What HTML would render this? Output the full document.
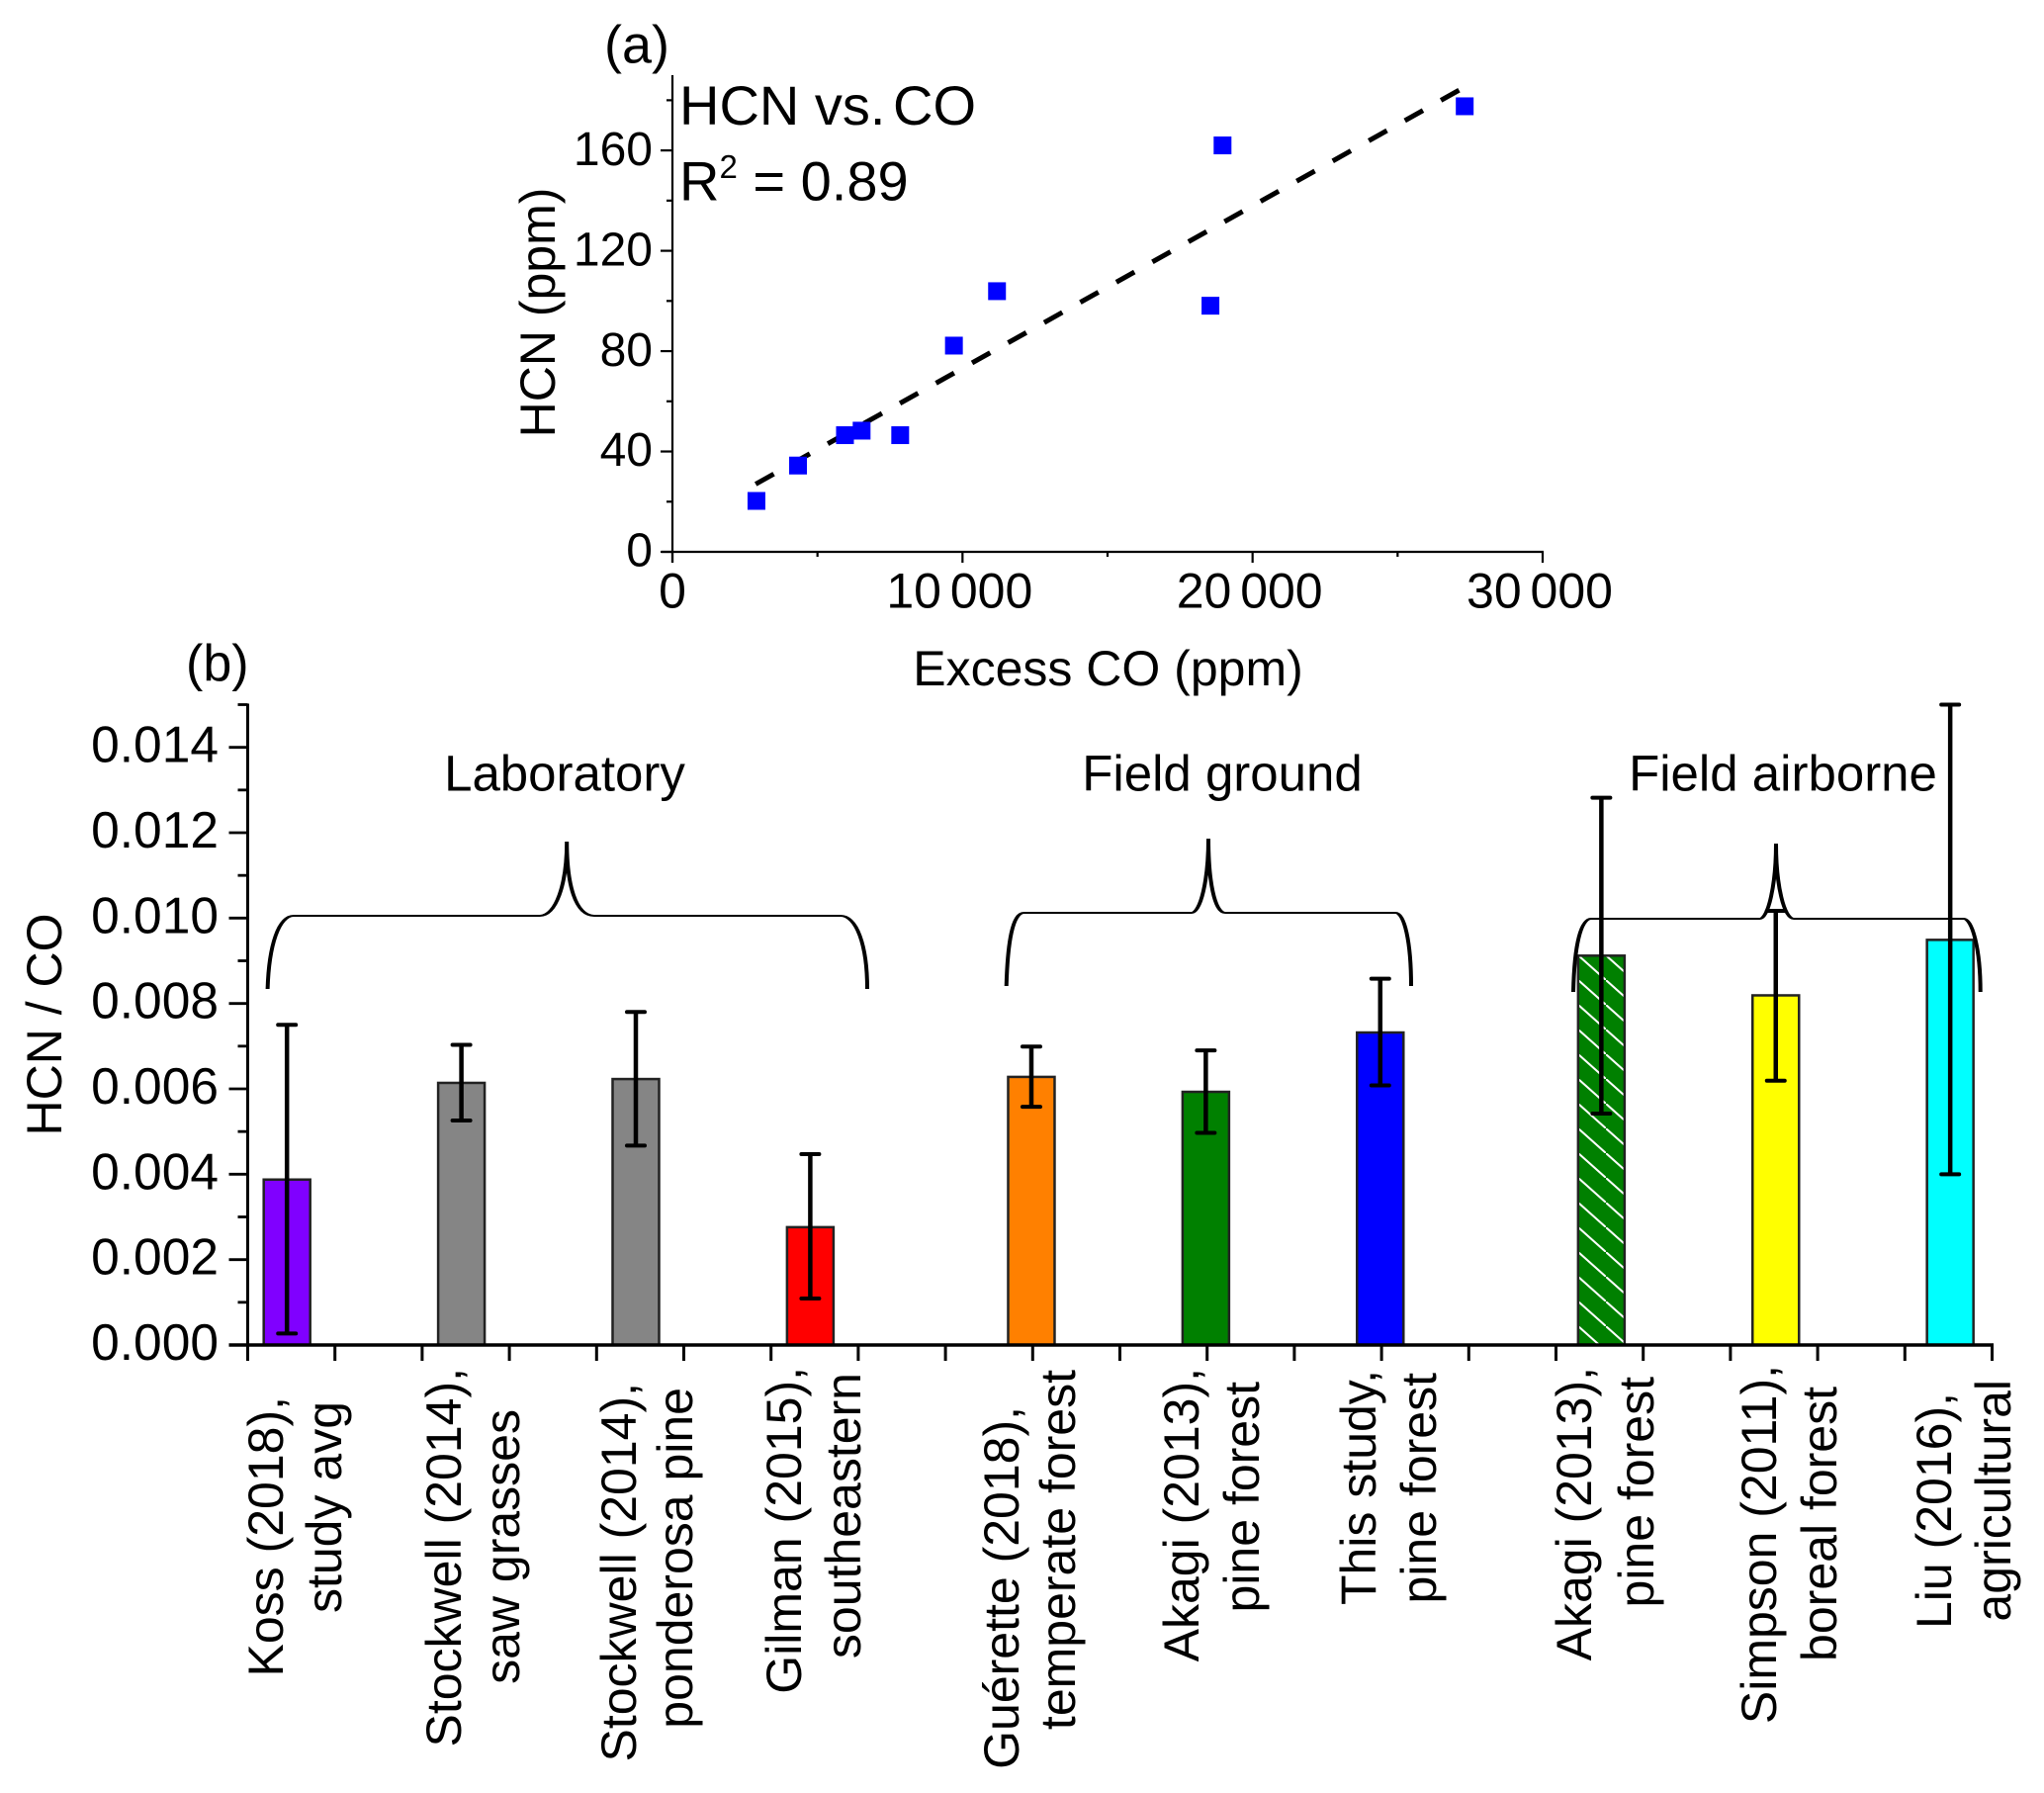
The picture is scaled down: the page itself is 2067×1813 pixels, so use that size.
<!DOCTYPE html>
<html lang="en">
<head>
<meta charset="utf-8">
<title>HCN vs CO</title>
<style>
html,body{margin:0;padding:0;background:#fff}
svg{display:block}
text{font-family:"Liberation Sans",Arial,sans-serif;fill:#000}
</style>
</head>
<body>
<svg id="chart" xmlns="http://www.w3.org/2000/svg" width="2067" height="1813" viewBox="0 0 2067 1813">
  <defs>
    <pattern id="hatch" patternUnits="userSpaceOnUse" width="28" height="25" patternTransform="translate(0,16)">
      <rect width="28" height="25" fill="#008000"/>
      <line x1="-2" y1="-1.8" x2="30" y2="26.8" stroke="#fff" stroke-width="2"/>
    </pattern>
  </defs>
  <rect width="2067" height="1813" fill="#fff"/>

  <g id="panel-a">
    <text x="611" y="63.5" font-size="54">(a)</text>
    <text x="687" y="126" font-size="56">HCN vs.<tspan dx="-8"> CO</tspan></text>
    <text x="687" y="202.7" font-size="56">R<tspan font-size="33" dy="-22.7">2</tspan><tspan dy="22.7"> = 0.89</tspan></text>
    <text transform="translate(561,316) rotate(-90)" text-anchor="middle" font-size="50">HCN (ppm)</text>
    <text x="1120.5" y="693" text-anchor="middle" font-size="50">Excess CO (ppm)</text>
  </g>

  <g id="panel-b">
    <text x="188" y="688" font-size="52">(b)</text>
    <text transform="translate(62,1036) rotate(-90)" text-anchor="middle" font-size="50">HCN / CO</text>
    <text x="571" y="799.5" text-anchor="middle" font-size="51">Laboratory</text>
    <text x="1236" y="799.5" text-anchor="middle" font-size="51">Field ground</text>
    <text x="1803" y="799.5" text-anchor="middle" font-size="51">Field airborne</text>

    <g id="cat-labels" font-size="50" text-anchor="end">
      <text transform="translate(286,1412) rotate(-90)">Koss (2018),</text>
      <text transform="translate(345,1417) rotate(-90)">study avg</text>
      <text transform="translate(466,1383) rotate(-90)">Stockwell (2014),</text>
      <text transform="translate(525,1425) rotate(-90)">saw grasses</text>
      <text transform="translate(643,1398) rotate(-90)">Stockwell (2014),</text>
      <text transform="translate(700,1403) rotate(-90)">ponderosa pine</text>
      <text transform="translate(810,1382) rotate(-90)">Gilman (2015),</text>
      <text transform="translate(870,1388) rotate(-90)">southeastern</text>
      <text transform="translate(1030,1422) rotate(-90)">Guérette (2018),</text>
      <text transform="translate(1087,1385) rotate(-90)">temperate forest</text>
      <text transform="translate(1212,1383) rotate(-90)">Akagi (2013),</text>
      <text transform="translate(1273,1397) rotate(-90)">pine forest</text>
      <text transform="translate(1391,1385) rotate(-90)">This study,</text>
      <text transform="translate(1452,1388) rotate(-90)">pine forest</text>
      <text transform="translate(1609,1382) rotate(-90)">Akagi (2013),</text>
      <text transform="translate(1672,1392) rotate(-90)">pine forest</text>
      <text transform="translate(1796,1380) rotate(-90)">Simpson (2011),</text>
      <text transform="translate(1857,1402) rotate(-90)">boreal forest</text>
      <text transform="translate(1973,1408) rotate(-90)">Liu (2016),</text>
      <text transform="translate(2033,1395) rotate(-90)">agricultural</text>
    </g>
  </g>
  <g id="brackets" fill="none" stroke="#000" stroke-width="2" transform="scale(2,1)">
    <path d="M135.3,1000 C136,955 141,926 148.5,926 L273,926 C281,926 286.6,895 286.6,851 C286.6,895 291,926 300.4,926 L425,926 C433,926 438.5,955 438.5,1000"/>
    <path d="M508.85,997 C509.5,952 512,923 517.75,923 L602.5,923 C607,923 611,890 611,848 C611,890 614,923 619.5,923 L705.75,923 C710,923 713.5,952 713.5,997"/>
    <path d="M795.5,1003 C796,958 799,929 804.5,929 L889.85,929 C894,929 898,895 898,853 C898,895 902,929 907,929 L993,929 C997,929 1001.35,958 1001.35,1003"/>
  </g>

<script>
// Panel (a) data
const coValues = [2896, 4330, 5948, 6522, 7852, 9704, 11190, 18548, 18965, 27313];
const hcnValues = [20.3, 34.4, 46.5, 48.3, 46.5, 82.2, 103.9, 98.1, 162, 177.6];
const trendCo = [2870, 27150];
const trendHcn = [27, 184.2];
const xTicksA = [0, 10000, 20000, 30000];
const xTickLabelsA = ['0', '10 000', '20 000', '30 000'];
const xMinorA = [5000, 15000, 25000];
const yTicksA = [0, 40, 80, 120, 160];
const yMinorA = [20, 60, 100, 140, 180];
const yMaxA = 190;

// Panel (b) data
const barCategories = ['Koss 2018', 'Stockwell 2014 saw grasses', 'Stockwell 2014 ponderosa', 'Gilman 2015', 'Guerette 2018', 'Akagi 2013 ground', 'This study', 'Akagi 2013 airborne', 'Simpson 2011', 'Liu 2016'];
const barGroups = [0, 0, 0, 0, 1, 1, 1, 2, 2, 2];
const barValues = [0.003875, 0.00614, 0.00623, 0.00276, 0.00628, 0.00593, 0.00732, 0.00912, 0.00819, 0.00949];
const errUpper = [0.0075, 0.00703, 0.0078, 0.00447, 0.00699, 0.0069, 0.00858, 0.01282, 0.01017, 0.015];
const errLower = [0.00027, 0.00526, 0.00467, 0.00109, 0.00558, 0.00497, 0.00608, 0.00542, 0.00619, 0.004];
const barColors = ['#8000ff', '#858585', '#858585', '#ff0000', '#ff8000', '#008000', '#0000ff', 'url(#hatch)', '#ffff00', '#00ffff'];
const yTicksB = [0, 0.002, 0.004, 0.006, 0.008, 0.01, 0.012, 0.014];
const yTickLabelsB = ['0.000', '0.002', '0.004', '0.006', '0.008', '0.010', '0.012', '0.014'];
const yMinorB = [0.001, 0.003, 0.005, 0.007, 0.009, 0.011, 0.013, 0.015];
const yMaxB = 0.015;
const xTickCountB = 21;

const svg = document.getElementById('chart');
const NS = 'http://www.w3.org/2000/svg';
function mk(tag, attrs, parent) {
  const el = document.createElementNS(NS, tag);
  for (const k in attrs) el.setAttribute(k, attrs[k]);
  (parent || svg).appendChild(el);
  return el;
}

// Axis functions panel a
const ax = { x0: 680, x1: 1560, y0: 558, y1: 76, xMax: 30000 };
const xA = v => ax.x0 + (v / ax.xMax) * (ax.x1 - ax.x0);
const yA = v => ax.y0 - (v / yMaxA) * (ax.y0 - ax.y1);

// Axis functions panel b
const bx = { x0: 250.5, step: 88.2, y0: 1360, y1: 712.5 };
const yB = v => bx.y0 - (v / yMaxB) * (bx.y0 - bx.y1);
const xTickB = i => bx.x0 + i * bx.step;
const xBar = (i, g) => xTickB(0.45 + i * 2 + g * 0.535);

const gA = document.getElementById('panel-a');
const gB = document.getElementById('panel-b');

// Panel a trend line
const trend = mk('line', { x1: xA(trendCo[0]), y1: yA(trendHcn[0]), x2: xA(trendCo[1]), y2: yA(trendHcn[1]), stroke: '#000', 'stroke-width': 5, 'stroke-dasharray': '21 20.8' }, gA);



// Panel a axes
const axisAV = mk('line', { x1: ax.x0, y1: ax.y1, x2: ax.x0, y2: ax.y0 + 11, stroke: '#000', 'stroke-width': 2.2 }, gA);


const axisAH = mk('line', { x1: ax.x0 - 11, y1: ax.y0, x2: ax.x1 + 1, y2: ax.y0, stroke: '#000', 'stroke-width': 2.2 }, gA);



xTicksA.forEach((v, i) => {
  const t = mk('line', { x1: xA(v), y1: ax.y0, x2: xA(v), y2: ax.y0 + 11, stroke: '#000', 'stroke-width': 2.2 }, gA);
  
  
  const l = mk('text', { x: v === 0 ? xA(v) : xA(v) - 3, y: 614.5, 'text-anchor': 'middle', 'font-size': 50, style: 'word-spacing:-0.1em' }, gA);
  
  
  l.textContent = xTickLabelsA[i];
});
xMinorA.forEach(v => {
  const t = mk('line', { x1: xA(v), y1: ax.y0, x2: xA(v), y2: ax.y0 + 5, stroke: '#000', 'stroke-width': 2.2 }, gA);
  
  
});
yTicksA.forEach(v => {
  const t = mk('line', { x1: ax.x0 - 12, y1: yA(v), x2: ax.x0, y2: yA(v), stroke: '#000', 'stroke-width': 2.2 }, gA);
  
  
  const l = mk('text', { x: 660, y: yA(v) + 14.7, 'text-anchor': 'end', 'font-size': 48 }, gA);
  
  
  l.textContent = String(v);
});
yMinorA.forEach(v => {
  const t = mk('line', { x1: ax.x0 - 6, y1: yA(v), x2: ax.x0, y2: yA(v), stroke: '#000', 'stroke-width': 2.2 }, gA);
  
  
});

// Panel a points
coValues.forEach((c, i) => {
  const p = mk('rect', { x: xA(c) - 9, y: yA(hcnValues[i]) - 9, width: 18, height: 18, fill: '#0000ff' }, gA);
  
  
});

// Panel b bars
const barWidth = 47;
barValues.forEach((v, i) => {
  const cx = xBar(i, barGroups[i]);
  const bar = mk('rect', { x: cx - barWidth / 2, y: yB(v), width: barWidth, height: bx.y0 - yB(v), fill: barColors[i], stroke: '#222', 'stroke-width': 2.5 }, gB);
  
  
  const title = document.createElementNS(NS, 'title');
  title.textContent = barCategories[i];
  bar.appendChild(title);
});

// Panel b axes
const axisBV = mk('line', { x1: bx.x0, y1: bx.y1 - 1, x2: bx.x0, y2: bx.y0 + 16, stroke: '#000', 'stroke-width': 3 }, gB);


const axisBH = mk('line', { x1: bx.x0 - 19, y1: bx.y0, x2: xTickB(xTickCountB - 1) + 1.5, y2: bx.y0, stroke: '#000', 'stroke-width': 3.4 }, gB);



for (let i = 0; i < xTickCountB; i++) {
  const t = mk('line', { x1: xTickB(i), y1: bx.y0, x2: xTickB(i), y2: bx.y0 + 16, stroke: '#000', 'stroke-width': 3 }, gB);
  
  
}
yTicksB.forEach((v, i) => {
  const t = mk('line', { x1: bx.x0 - 19, y1: yB(v), x2: bx.x0, y2: yB(v), stroke: '#000', 'stroke-width': 2.8 }, gB);
  
  
  const l = mk('text', { x: 221, y: yB(v) + 15, 'text-anchor': 'end', 'font-size': 51.5 }, gB);
  
  
  l.textContent = yTickLabelsB[i];
});
yMinorB.forEach(v => {
  const t = mk('line', { x1: bx.x0 - 10, y1: yB(v), x2: bx.x0, y2: yB(v), stroke: '#000', 'stroke-width': 2.8 }, gB);
  
  
});

// Panel b error bars
barValues.forEach((v, i) => {
  const cx = xBar(i, barGroups[i]);
  const stem = mk('line', { x1: cx, y1: yB(errUpper[i]), x2: cx, y2: yB(errLower[i]), stroke: '#000', 'stroke-width': 4.5 }, gB);
  
  
  const capTop = mk('line', { x1: cx - 9, y1: yB(errUpper[i]), x2: cx + 9, y2: yB(errUpper[i]), stroke: '#000', 'stroke-width': 4, 'stroke-linecap': 'round' }, gB);
  
  
  const capLow = mk('line', { x1: cx - 9, y1: yB(errLower[i]), x2: cx + 9, y2: yB(errLower[i]), stroke: '#000', 'stroke-width': 4, 'stroke-linecap': 'round' }, gB);
  
  
});

svg.appendChild(document.getElementById('brackets'));
</script>
</svg>
</body>
</html>
